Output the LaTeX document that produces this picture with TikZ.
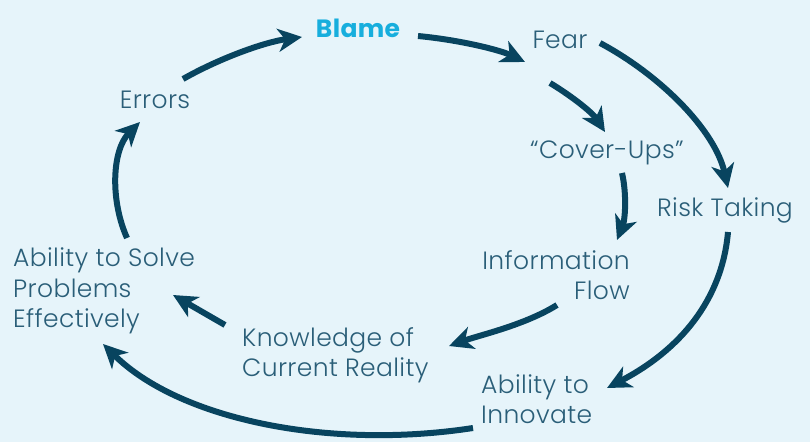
\documentclass[tikz,border=0pt]{standalone}
\usepackage{fontspec}
\setmainfont{Poppins}[UprightFont={* Light}, BoldFont={* Bold}, LetterSpace=1.5]
\usetikzlibrary{arrows.meta}
\definecolor{bgblue}{HTML}{E6F4FA}
\definecolor{arrowteal}{HTML}{08445F}
\definecolor{labelteal}{HTML}{2A5E78}
\definecolor{blamecyan}{HTML}{17AEDD}
\begin{document}
\begin{tikzpicture}[x=1pt,y=1pt,
  label/.style={inner sep=0pt, text=labelteal,
    font=\fontsize{25}{30.5}\selectfont},
  flow/.style={draw=arrowteal, line width=6pt,
    -{Stealth[length=24pt,width=23pt,inset=7pt]}}]
  % canvas
  \fill[bgblue] (0,0) rectangle (810,442);
  \useasboundingbox (0,0) rectangle (810,442);

  % labels
  \node[label, text=blamecyan, font=\fontsize{25}{30}\selectfont\bfseries] (blame) at (358,414) {Blame};
  \node[label] (fear) at (560,402) {Fear};
  \node[label] (cover) at (607,289) {“Cover-Ups”};
  \node[label] (risk) at (725,232) {Risk Taking};
  \node[label, align=right, anchor=east] (info) at (630,167) {Information\\Flow};
  \node[label, align=left, anchor=west] (know) at (242,87) {Knowledge of\\Current Reality};
  \node[label, align=left, anchor=west] (innov) at (481,43) {Ability to\\Innovate};
  \node[label, align=left, anchor=west] (solve) at (13,151) {Ability to Solve\\Problems\\Effectively};
  \node[label] (errors) at (155,342) {Errors};

  % cycle connectors
  \draw[flow] ([shift={(28,21)}]errors.center) .. controls (220,384) and (265,400) .. ([shift={(-56,-9)}]blame.center);
  \draw[flow] ([shift={(60,-8)}]blame.center) .. controls (460,402) and (500,392) .. ([shift={(-35,-22)}]fear.center);
  \draw[flow] ([shift={(40,-3)}]fear.center) .. controls (660,367) and (715,312) .. ([shift={(3,22)}]risk.center);
  \draw[flow] ([shift={(-10,-43)}]fear.center) .. controls (570,347) and (592,330) .. ([shift={(-2,21)}]cover.center);
  \draw[flow] ([shift={(15,-20)}]cover.center) .. controls (627,247) and (625,222) .. ([shift={(-13,35)}]info.east);
  \draw[flow] ([shift={(3,-22)}]risk.center) .. controls (722,142) and (680,92) .. ([shift={(126,11)}]innov.west);
  \draw[flow] ([shift={(-73,-30)}]info.east) .. controls (525,117) and (480,107) .. ([shift={(207,9)}]know.west);
  \draw[flow] ([shift={(-8,-29)}]innov.west) .. controls (330,-8) and (180,22) .. ([shift={(90,-53)}]solve.west);
  \draw[flow] ([shift={(-17,30)}]know.west) -- ([shift={(160,-4)}]solve.west);
  \draw[flow] ([shift={(114,53)}]solve.west) .. controls (110,242) and (112,292) .. ([shift={(-15,-22)}]errors.center);
\end{tikzpicture}
\end{document}
